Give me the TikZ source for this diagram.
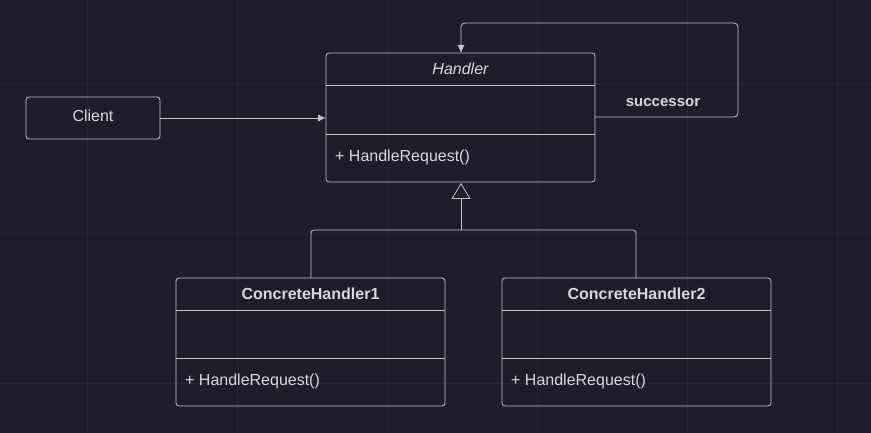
\documentclass[tikz,border=0pt]{standalone}
\usepackage{fontspec}
\setmainfont{Liberation Sans}
\usetikzlibrary{arrows.meta}
\definecolor{bg}{HTML}{1E1E2B}
\definecolor{ln}{HTML}{C4C4C8}
\definecolor{tx}{HTML}{D8D8DC}
\definecolor{gr}{HTML}{272734}
\begin{document}
\begin{tikzpicture}[x=1pt,y=-1pt,
  box/.style={draw=ln,line width=0.8pt,rounded corners=3pt},
  sep/.style={draw=ln,line width=0.8pt},
  lbl/.style={text=tx,font=\fontsize{16}{18}\selectfont,inner sep=0pt},
  con/.style={draw=ln,line width=0.8pt}]
\fill[bg] (0,0) rectangle (871,433);
\useasboundingbox (0,0) rectangle (871,433);
\foreach \x in {87,237,387,537,687,837} \draw[gr,line width=0.6pt] (\x,0)--(\x,433);
\foreach \y in {83,233,383} \draw[gr,line width=0.6pt] (0,\y)--(871,\y);
% Handler
\draw[box] (326,53) rectangle (595,182);
\draw[sep] (326,85)--(595,85) (326,134)--(595,134);
\node[lbl,font=\fontsize{16}{18}\selectfont\itshape] (hname) at (460.5,69) {Handler};
\node[lbl,anchor=west] (hop) at (335,157) {+ HandleRequest()};
\coordinate (hW) at (326,118);
\coordinate (hE) at (595,117);
\coordinate (hN) at (461,53);
\coordinate (hS) at (461,183);
% Client
\draw[box] (26,97) rectangle (160,139);
\node[lbl] (client) at (93,116) {Client};
\coordinate (cE) at (160,118);
% CH1
\draw[box] (176,278) rectangle (445,406);
\draw[sep] (176,310)--(445,310) (176,358)--(445,358);
\node[lbl,font=\fontsize{16}{18}\selectfont\bfseries] (c1) at (310.5,294) {ConcreteHandler1};
\node[lbl,anchor=west] (c1op) at (185,381) {+ HandleRequest()};
\coordinate (c1N) at (311,278);
% CH2
\draw[box] (502,278) rectangle (771,406);
\draw[sep] (502,310)--(771,310) (502,358)--(771,358);
\node[lbl,font=\fontsize{16}{18}\selectfont\bfseries] (c2) at (636.5,294) {ConcreteHandler2};
\node[lbl,anchor=west] (c2op) at (511,381) {+ HandleRequest()};
\coordinate (c2N) at (636,278);
% connectors
\draw[con,-{Latex[length=8pt,width=7pt]}] (cE)--(hW);
\draw[con,rounded corners=4pt,-{Latex[length=8pt,width=7pt]}] (hE)--(738,117)--(738,23)--(461,23)--(hN);
\node[text=tx,font=\fontsize{15}{17}\selectfont\bfseries,inner sep=0pt] (succ) at (663,103) {successor};
\draw[con,-{Triangle[open,length=16pt,width=19pt]}] (461,230)--(hS);
\draw[con,rounded corners=3pt] (c1N)--(311,230)--(636,230)--(c2N);
\end{tikzpicture}
\end{document}
